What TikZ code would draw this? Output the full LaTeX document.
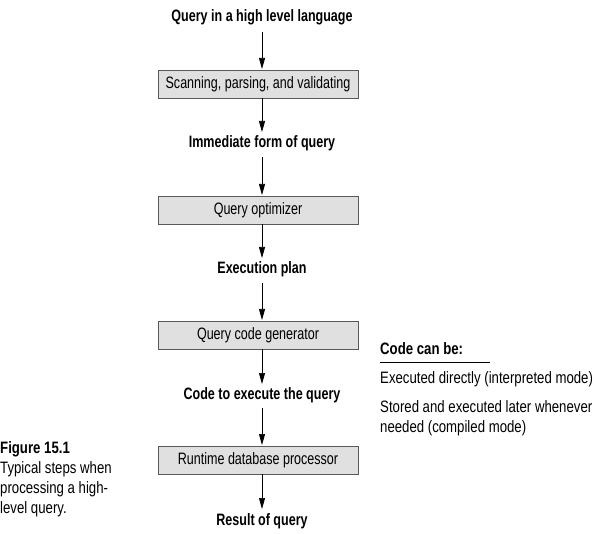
\documentclass[tikz,border=0pt]{standalone}
\usepackage{fontspec}
\setmainfont{Liberation Sans}[FakeStretch=0.76]
\newfontfamily\sidefont{Liberation Sans}[FakeStretch=0.8]
\usetikzlibrary{arrows.meta}
\begin{document}
\begin{tikzpicture}[x=1pt,y=-1pt,
  lbl/.style={font=\fontsize{16.5}{19}\selectfont\bfseries, inner sep=0pt},
  stepbox/.style={draw=black!65, fill=black!12, line width=0.8pt, minimum width=200pt, minimum height=28pt, inner sep=0pt, font=\fontsize{16.5}{19}\selectfont},
  flow/.style={-{Triangle[length=11pt,width=6pt]}, line width=0.7pt},
  side/.style={font=\sidefont\fontsize{16.5}{19}\selectfont, inner sep=0pt, anchor=west},
  sidebold/.style={font=\sidefont\fontsize{16.5}{19}\selectfont\bfseries, inner sep=0pt, anchor=west},
]
\useasboundingbox (0,0) rectangle (594,534);
\node[lbl] (t0) at (262,17) {Query in a high level language};
\node[stepbox] (b1) at (258,84) {Scanning, parsing, and validating};
\node[lbl] (t1) at (262,143) {Immediate form of query};
\node[stepbox] (b2) at (258,210) {Query optimizer};
\node[lbl] (t2) at (262,269) {Execution plan};
\node[stepbox] (b3) at (258,335) {Query code generator};
\node[lbl] (t3) at (262,395) {Code to execute the query};
\node[stepbox] (b4) at (258,460) {Runtime database processor};
\node[lbl] (t4) at (262,521) {Result of query};

\draw[flow] (262,32) -- (262,69);
\draw[flow] (262,98) -- (262,132);
\draw[flow] (262,157) -- (262,195);
\draw[flow] (262,224) -- (262,258);
\draw[flow] (262,283) -- (262,320);
\draw[flow] (262,349) -- (262,384);
\draw[flow] (262,408) -- (262,445);
\draw[flow] (262,474) -- (262,509);

\node[sidebold] (cb) at (380,349) {Code can be:};
\draw[line width=0.8pt] (380,362) -- (490,362);
\node[side] (e1) at (380,379) {Executed directly (interpreted mode)};
\node[side] (e2) at (380,407) {Stored and executed later whenever};
\node[side] (e3) at (380,428) {needed (compiled mode)};

\node[sidebold] (fig) at (0,449) {Figure 15.1};
\node[side] (c1) at (0,469) {Typical steps when};
\node[side] (c2) at (0,489) {processing a high-};
\node[side] (c3) at (0,509) {level query.};
\end{tikzpicture}
\end{document}
